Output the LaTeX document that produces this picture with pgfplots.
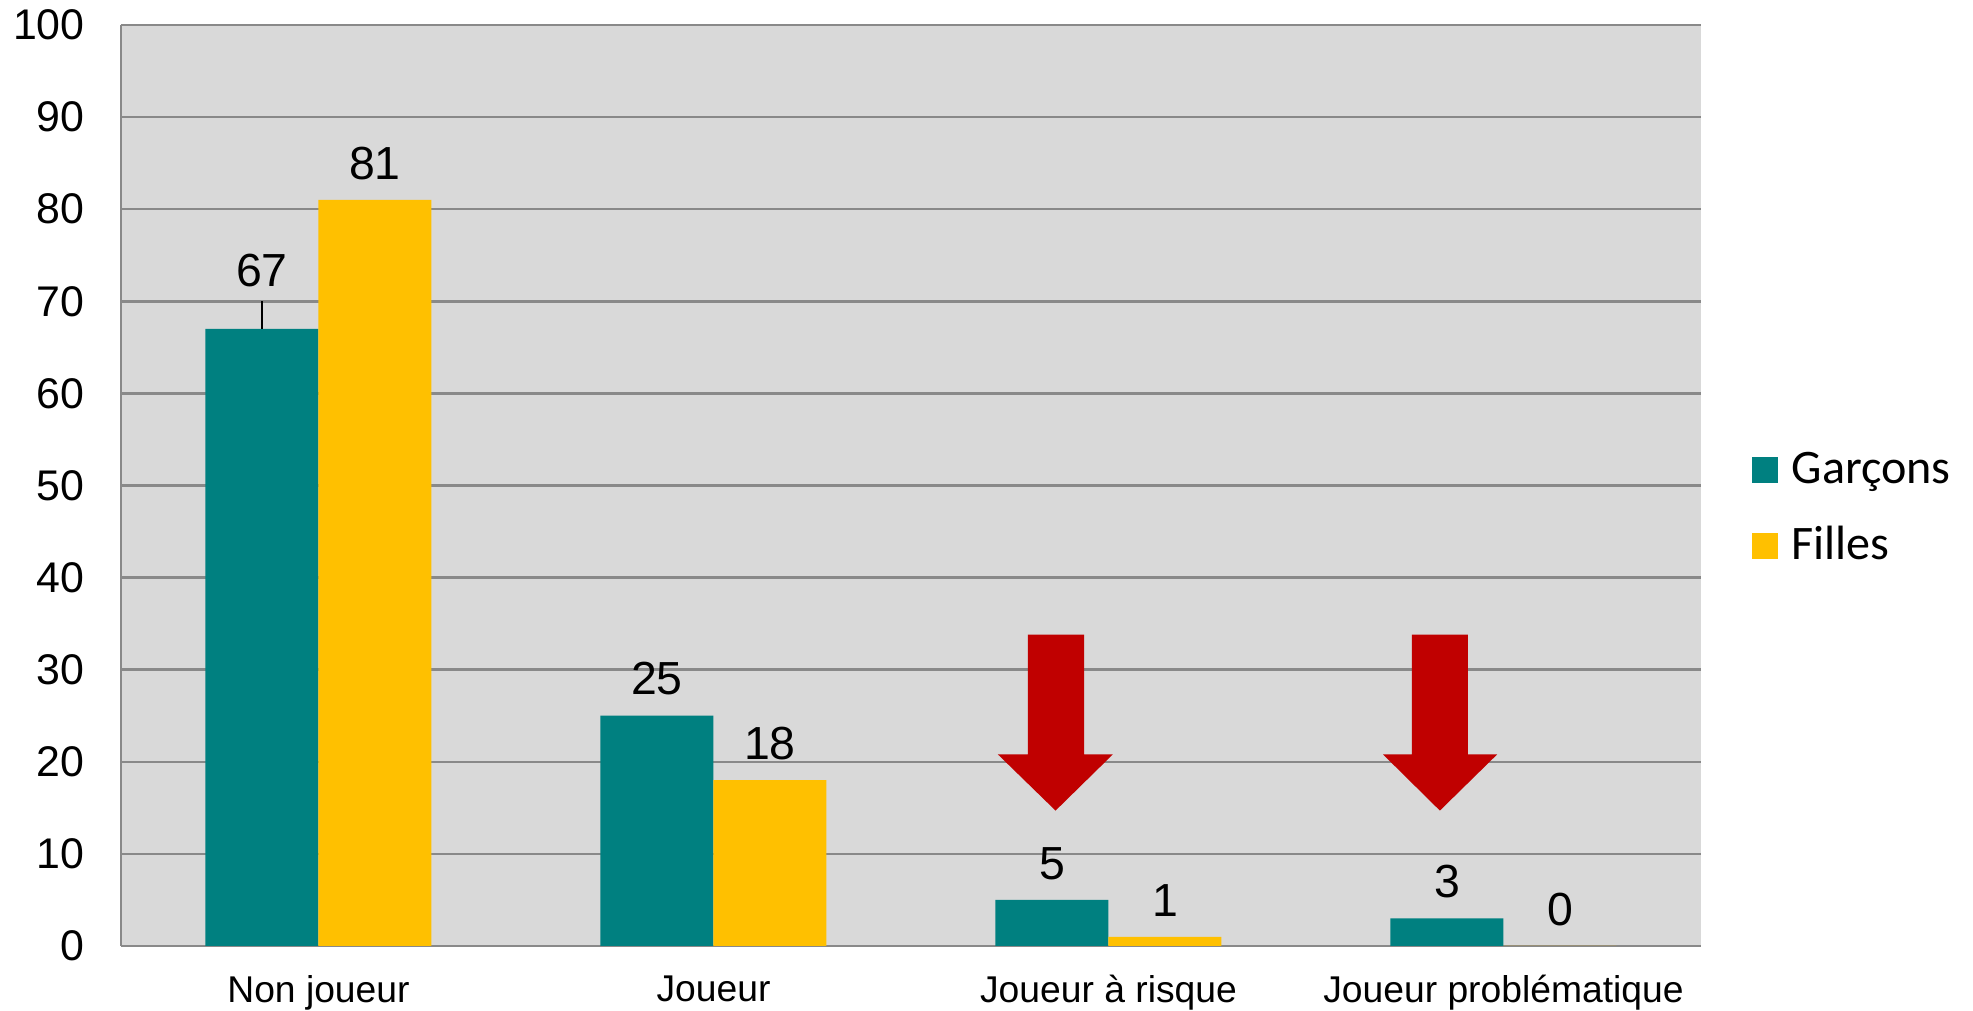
\documentclass[border=0pt]{standalone}
\usepackage{fontspec}
\setmainfont{Liberation Sans}
\newfontfamily\calibri{Carlito}
\usepackage{pgfplots}
\usepackage{pgfplotstable}
\pgfplotsset{compat=1.18}

\definecolor{garcons}{HTML}{008080}
\definecolor{filles}{HTML}{FFC000}
\definecolor{fleche}{HTML}{C00000}
\definecolor{fond}{HTML}{D9D9D9}
\definecolor{grille}{HTML}{898989}

% x, value, extra label shift (mm)
\pgfplotstableread{
x y dy
0 67 3.0
1 25 0.8
2 5 0.8
3 3 0.8
}\garcons
\pgfplotstableread{
x y dy
0 81 0.8
1 18 0.8
2 1 0.8
3 0 0.8
}\filles

\begin{document}
\begin{tikzpicture}
\begin{axis}[
  scale only axis,
  width=158mm, height=92.1mm,
  ybar=0pt,
  bar width=11.3mm,
  xmin=-0.5, xmax=3.5,
  ymin=0, ymax=100,
  ytick={0,10,...,100},
  xtick={0,1,2,3},
  xticklabels={Non joueur, Joueur, Joueur à risque, Joueur problématique},
  /pgf/number format/assume math mode=true,
  axis background/.style={fill=fond},
  axis x line*=bottom, axis y line*=left,
  axis line style={draw=grille, line width=0.7pt, -},
  ymajorgrids=true,
  grid style={draw=grille, line width=0.7pt},
  major tick length=0pt,
  yticklabel style={font=\fontsize{12.2}{14}\selectfont, xshift=-2.4mm},
  xticklabel style={font=\fontsize{10.6}{12}\selectfont, yshift=-1.7mm},
  nodes near coords,
  visualization depends on={\thisrow{dy} \as \dy},
  every node near coord/.append style={font=\fontsize{13.2}{15}\selectfont, yshift=\dy*1mm},
  legend style={at={(1.025,0.475)}, anchor=west, draw=none, fill=none,
    font=\calibri\fontsize{13.7}{16}\selectfont, row sep=2.4mm},
  legend cell align=left,
  legend image code/.code={\fill[#1] (0mm,-1.3mm) rectangle (2.6mm,1.3mm); \path (3.3mm,0);},
]
\addplot[draw=none, fill=garcons] table[x=x, y=y] {\garcons};
\addlegendentry{Garçons}
\addplot[draw=none, fill=filles] table[x=x, y=y] {\filles};
\addlegendentry{Filles}

% leader line for 67
\draw[black, line width=0.4pt] (axis cs:-0.1435,67) -- (axis cs:-0.1435,70);

% red arrows
\fill[fleche] (axis cs:1.796,33.8) -- (axis cs:1.938,33.8) -- (axis cs:1.938,20.8)
  -- (axis cs:2.011,20.8) -- (axis cs:1.866,14.7) -- (axis cs:1.720,20.8)
  -- (axis cs:1.796,20.8) -- cycle;
\fill[fleche] (axis cs:2.768,33.8) -- (axis cs:2.910,33.8) -- (axis cs:2.910,20.8)
  -- (axis cs:2.984,20.8) -- (axis cs:2.839,14.7) -- (axis cs:2.695,20.8)
  -- (axis cs:2.768,20.8) -- cycle;
\end{axis}
\pgfresetboundingbox
\path[use as bounding box] (-12.1mm,-6.5mm) rectangle (185.2mm,94.6mm);
\end{tikzpicture}
\end{document}
